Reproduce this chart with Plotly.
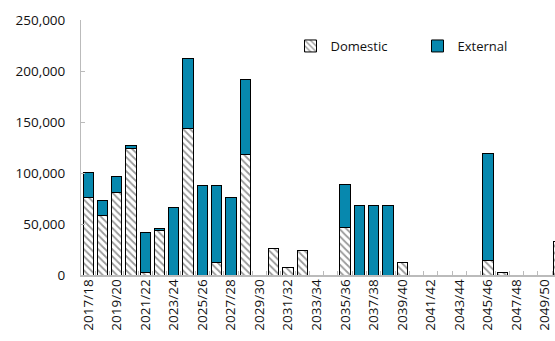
import plotly.graph_objects as go

years = [f"{y}/{str(y + 1)[2:]}" for y in range(2017, 2051)]
domestic = [76000, 58800, 81300, 124200, 2900, 44100, 0, 143800, 0, 12700, 0, 118300,
            0, 25800, 7500, 24500, 0, 0, 46700, 0, 0, 0, 11800, 0,
            0, 0, 0, 0, 14400, 2900, 0, 0, 0, 32700]
external = [24300, 14700, 15700, 2900, 38900, 1700, 66400, 68000, 87300, 75500, 76200, 73600,
            0, 0, 0, 0, 0, 0, 41800, 68300, 68300, 68300, 0, 0,
            0, 0, 0, 0, 104900, 0, 0, 0, 0, 0]
y_ticks = [0, 50000, 100000, 150000, 200000, 250000]

FONT = "Open Sans"
BLUE = "#0788AE"

def nz(v):
    return [x if x else None for x in v]

# bar widths (category fraction); the last bar sits at the clipped right edge
widths = [0.72] * (len(years) - 1) + [0.84]

fig = go.Figure()
fig.add_trace(go.Bar(
    x=years, y=nz(domestic), name="Domestic", width=widths,
    marker=dict(color="white", line=dict(color="black", width=1),
                pattern=dict(shape="\\", fgcolor="#333333", bgcolor="white", size=5, solidity=0.35)),
))
fig.add_trace(go.Bar(
    x=years, y=nz(external), name="External", width=widths,
    marker=dict(color=BLUE, line=dict(color="black", width=1)),
))

ticktext = [y if i % 2 == 0 else "" for i, y in enumerate(years)]

fig.update_layout(
    width=555, height=341,
    margin=dict(l=81, r=0, t=20, b=66),
    barmode="stack",
    plot_bgcolor="white", paper_bgcolor="white",
    font=dict(family=FONT, size=13, color="#111111"),
    showlegend=True,
    legend=dict(orientation="h", x=0.442, y=0.898, xanchor="left", yanchor="middle",
                font=dict(size=13), entrywidth=82, bgcolor="rgba(0,0,0,0)",
                traceorder="normal"),
    xaxis=dict(type="category", range=[-0.5, 32.7], tickmode="array", automargin=False,
               tickvals=years, ticktext=ticktext, tickangle=-90,
               tickson="boundaries", ticks="inside", ticklen=4, tickcolor="#BBBBBB",
               showline=True, linecolor="#BBBBBB", linewidth=2, showgrid=False,
               ticklabelstandoff=-3, tickfont=dict(size=13.5)),
    yaxis=dict(range=[0, 250000], tickvals=y_ticks, tickformat=",", ticks="inside",
               automargin=False,
               ticklen=4, tickcolor="#BBBBBB", showline=True, linecolor="#BBBBBB",
               linewidth=1, showgrid=False, zeroline=False, ticklabelstandoff=12,
               tickfont=dict(size=13.5)),
)

fig.add_annotation(text="(in millions of Rand)", xref="paper", yref="paper",
                   x=(28 - 81) / 474, y=1 + 17 / 255, xanchor="left", yanchor="bottom",
                   showarrow=False, font=dict(size=13, color="#29A8E0", family=FONT))

fig.write_html("out.html", config={"displayModeBar": False},
               post_script="document.body.style.margin='0';")
